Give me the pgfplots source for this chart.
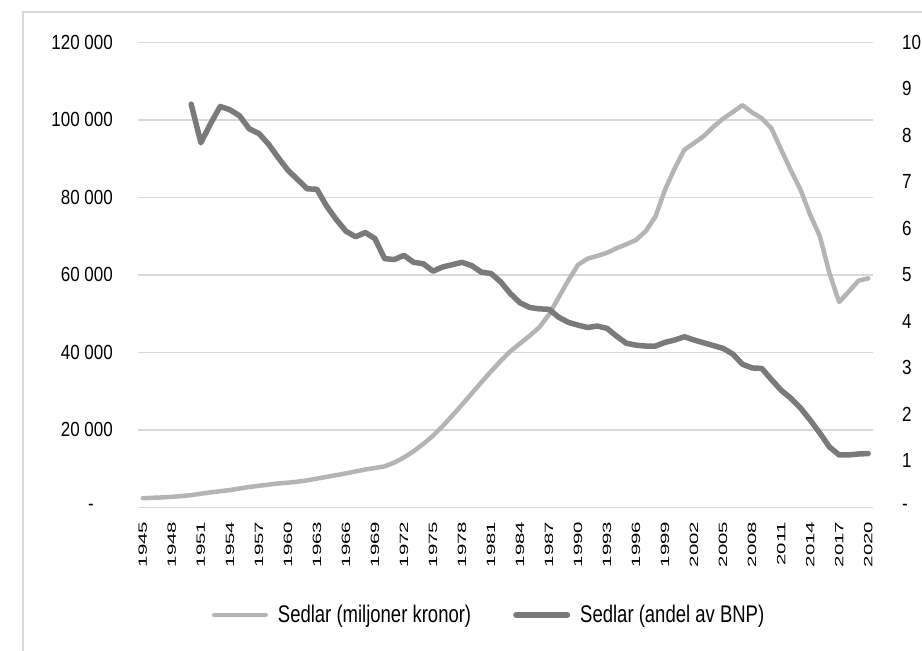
\documentclass[border=0pt]{standalone}
\usepackage{pgfplots}
\pgfplotsset{compat=1.18}
\usepackage{pgfplotstable}
\usepackage{graphicx}
\usepackage{fontspec}
\setmainfont{Liberation Sans}

\definecolor{lightser}{HTML}{B4B4B4}
\definecolor{darkser}{HTML}{7A7A7A}
\definecolor{gridc}{HTML}{D9D9D9}

\newcommand{\tl}[1]{\scalebox{1}[1.2]{\fontsize{17}{17}\selectfont #1}}
\newcommand{\yl}[1]{\scalebox{1.7}[1]{\fontsize{12}{12}\selectfont #1}}
\newcommand{\lt}[1]{\scalebox{1}[1.3]{\fontsize{18.5}{18.5}\selectfont #1}}

\pgfplotstableread{
year val
1945 2400
1946 2500
1947 2600
1948 2750
1949 2950
1950 3200
1951 3550
1952 3900
1953 4200
1954 4500
1955 4900
1956 5300
1957 5600
1958 5900
1959 6200
1960 6400
1961 6650
1962 7000
1963 7450
1964 7900
1965 8350
1966 8800
1967 9300
1968 9800
1969 10200
1970 10600
1971 11600
1972 12900
1973 14500
1974 16400
1975 18500
1976 21000
1977 23700
1978 26500
1979 29400
1980 32300
1981 35100
1982 37800
1983 40300
1984 42300
1985 44300
1986 46500
1987 49800
1988 54200
1989 58600
1990 62600
1991 64200
1992 64900
1993 65700
1994 66900
1995 67900
1996 69000
1997 71300
1998 75000
1999 82000
2000 87500
2001 92300
2002 94000
2003 95800
2004 98200
2005 100300
2006 102000
2007 103800
2008 101900
2009 100400
2010 97800
2011 92300
2012 87000
2013 82000
2014 75500
2015 70000
2016 60400
2017 53000
2018 55700
2019 58500
2020 59100
}\kronor

\pgfplotstableread{
year val
1950 8.67
1951 7.84
1952 8.25
1953 8.62
1954 8.55
1955 8.42
1956 8.14
1957 8.04
1958 7.81
1959 7.52
1960 7.25
1961 7.05
1962 6.85
1963 6.84
1964 6.48
1965 6.19
1966 5.94
1967 5.82
1968 5.91
1969 5.78
1970 5.35
1971 5.33
1972 5.42
1973 5.27
1974 5.24
1975 5.08
1976 5.17
1977 5.22
1978 5.27
1979 5.20
1980 5.06
1981 5.03
1982 4.85
1983 4.60
1984 4.40
1985 4.30
1986 4.27
1987 4.26
1988 4.09
1989 3.98
1990 3.92
1991 3.87
1992 3.90
1993 3.85
1994 3.68
1995 3.53
1996 3.49
1997 3.47
1998 3.47
1999 3.55
2000 3.60
2001 3.67
2002 3.60
2003 3.54
2004 3.48
2005 3.42
2006 3.30
2007 3.08
2008 3.00
2009 2.99
2010 2.75
2011 2.52
2012 2.35
2013 2.14
2014 1.88
2015 1.60
2016 1.30
2017 1.13
2018 1.13
2019 1.15
2020 1.16
}\andel

\begin{document}
\begin{tikzpicture}[x=1pt,y=1pt]
\path[use as bounding box] (0,0) rectangle (922,651);
\draw[gridc, line width=1.5pt] (23,-5) -- (23,639) -- (930,639);
\begin{axis}[
  at={(138pt,143.5pt)}, anchor=south west, scale only axis,
  width=735pt, height=465.2pt,
  xmin=1944.5, xmax=2020.5, ymin=0, ymax=120000,
  scaled y ticks=false, scaled x ticks=false,
  axis line style={draw=none},
  tick style={draw=none},
  ymajorgrids, grid style={gridc, line width=1.5pt},
  ytick={0,20000,40000,60000,80000,100000,120000},
  yticklabels={\tl{-\hphantom{00}},\tl{20~000},\tl{40~000},\tl{60~000},\tl{80~000},\tl{100~000},\tl{120~000}},
  yticklabel style={anchor=east, inner sep=0pt},
  yticklabel shift=25pt,
  xtick={1945,1948,...,2020},
  xticklabels={\yl{1945},\yl{1948},\yl{1951},\yl{1954},\yl{1957},\yl{1960},\yl{1963},\yl{1966},\yl{1969},\yl{1972},\yl{1975},\yl{1978},\yl{1981},\yl{1984},\yl{1987},\yl{1990},\yl{1993},\yl{1996},\yl{1999},\yl{2002},\yl{2005},\yl{2008},\yl{2011},\yl{2014},\yl{2017},\yl{2020}},
  xticklabel style={rotate=90, anchor=east, inner sep=0pt},
  xticklabel shift=14pt,
  clip=false,
  legend columns=2,
  legend cell align=left,
  legend image code/.code={\draw[#1, line cap=round] (2.5pt,0pt) -- (54pt,0pt);},
  legend style={at={(0.1003,-0.231)}, anchor=west, draw=none, fill=none,
    inner sep=0pt, nodes={inner sep=0pt},
    /tikz/every odd column/.append style={column sep=10pt},
    /tikz/every even column/.append style={column sep=42pt}},
]
\addplot[lightser, line width=4.5pt, line join=round, line cap=round] table[x=year, y=val] {\kronor};
\addlegendentry{\lt{Sedlar (miljoner kronor)}}
\addlegendimage{darkser, line width=5.5pt}
\addlegendentry{\lt{Sedlar (andel av BNP)}}
\end{axis}
\begin{axis}[
  at={(138pt,143.5pt)}, anchor=south west, scale only axis,
  width=735pt, height=465.2pt,
  xmin=1944.5, xmax=2020.5, ymin=0, ymax=10,
  scaled y ticks=false,
  axis line style={draw=none},
  tick style={draw=none},
  xtick=\empty,
  ytick={0,1,2,3,4,5,6,7,8,9,10},
  yticklabels={\tl{-},\tl{1},\tl{2},\tl{3},\tl{4},\tl{5},\tl{6},\tl{7},\tl{8},\tl{9},\tl{10}},
  yticklabel pos=right,
  yticklabel style={anchor=west, inner sep=0pt},
  yticklabel shift=29pt,
  clip=false,
]
\addplot[darkser, line width=5.5pt, line join=round, line cap=round] table[x=year, y=val] {\andel};
\end{axis}
\end{tikzpicture}
\end{document}
